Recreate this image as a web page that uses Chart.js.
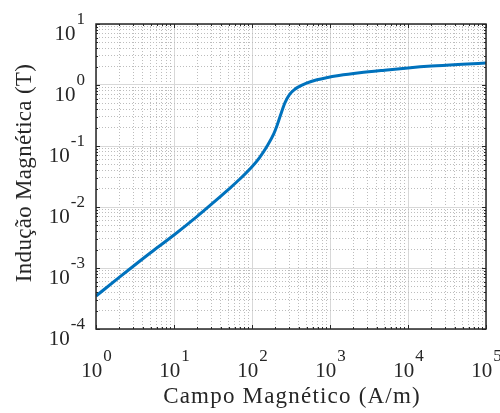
<!DOCTYPE html>
<html>
<head>
<meta charset="utf-8">
<script src="https://cdn.jsdelivr.net/npm/chart.js@4.4.1/dist/chart.umd.min.js"></script>
<style>
    html, body { margin: 0; padding: 0; background: #ffffff; }
    #wrap { width: 500px; height: 413px; }
</style>
</head>
<body>
<div id="wrap"><canvas id="bh" width="500" height="413"></canvas></div>
<script>
// ===== B-H curve (log-log) =====

// Campo magnético H (A/m)
const fieldH = [1, 2, 5, 10, 20, 30, 50, 70, 100, 125, 160, 190, 210, 230, 265, 305,
    350, 390, 500, 680, 900, 1300, 2400, 5000, 10000, 20000, 50000, 100000];
// Indução magnética B (T)
const inductionB = [3.47e-4, 7.08e-4, 1.78e-3, 3.47e-3, 7.08e-3, 0.0110, 0.0195, 0.0288,
    0.0457, 0.0646, 0.105, 0.158, 0.219, 0.309, 0.513, 0.708, 0.841, 0.923, 1.072, 1.216,
    1.318, 1.429, 1.585, 1.750, 1.905, 2.042, 2.188, 2.291];

// decade exponents shown as tick labels
const xDecades = [0, 1, 2, 3, 4, 5];
const yDecades = [-4, -3, -2, -1, 0, 1];

const xTitle = 'Campo Magnético (A/m)';
const yTitle = 'Indução Magnética (T)';

const FONT = '"Liberation Serif", "Times New Roman", serif';
const INK = '#262626';

// 1..9 x 10^n between min and max
function logTicks(minExp, maxExp) {
    const out = [];
    for (let e = minExp; e < maxExp; e++) {
        for (let s = 1; s < 10; s++) out.push({ value: s * Math.pow(10, e) });
    }
    out.push({ value: Math.pow(10, maxExp) });
    return out;
}

function isDecade(v) {
    const l = Math.log10(v);
    return Math.abs(l - Math.round(l)) < 1e-9;
}

const gridColor = ctx => (ctx.tick && isDecade(ctx.tick.value)) ? '#d8d8d8' : '#bdbdbd';
const gridDash = ctx => (ctx.tick && isDecade(ctx.tick.value)) ? [] : [1, 2];

// box, inward ticks and 10^n labels
const matlabAxes = {
    id: 'matlabAxes',
    afterDraw(chart) {
        const { ctx, chartArea: a, scales: { x, y } } = chart;
        ctx.save();

        // tick marks on all four sides
        ctx.strokeStyle = INK;
        ctx.lineWidth = 1;
        ctx.beginPath();
        x.ticks.forEach(t => {
            const px = Math.round(x.getPixelForValue(t.value)) + 0.5;
            const len = isDecade(t.value) ? 4 : 2;
            ctx.moveTo(px, a.bottom); ctx.lineTo(px, a.bottom - len);
            ctx.moveTo(px, a.top); ctx.lineTo(px, a.top + len);
        });
        y.ticks.forEach(t => {
            const py = Math.round(y.getPixelForValue(t.value)) + 0.5;
            const len = isDecade(t.value) ? 4 : 2;
            ctx.moveTo(a.left, py); ctx.lineTo(a.left + len, py);
            ctx.moveTo(a.right, py); ctx.lineTo(a.right - len, py);
        });
        ctx.stroke();

        // box
        ctx.lineWidth = 1.5;
        ctx.strokeRect(a.left, a.top, a.right - a.left, a.bottom - a.top);

        ctx.fillStyle = INK;
        ctx.textBaseline = 'alphabetic';
        const baseFont = '21px ' + FONT;
        const expFont = '17px ' + FONT;

        // x tick labels
        xDecades.forEach(n => {
            const px = x.getPixelForValue(Math.pow(10, n));
            ctx.font = baseFont;
            const wBase = ctx.measureText('10').width;
            ctx.font = expFont;
            const wExp = ctx.measureText(String(n)).width;
            const left = px - (wBase + wExp) / 2;
            ctx.textAlign = 'left';
            ctx.font = baseFont;
            ctx.fillText('10', left, a.bottom + 48);
            ctx.font = expFont;
            ctx.fillText(String(n), left + wBase + 1, a.bottom + 32);
        });

        // y tick labels (right aligned)
        yDecades.forEach(n => {
            const py = y.getPixelForValue(Math.pow(10, n));
            const right = a.left - 11;
            ctx.font = expFont;
            const wExp = ctx.measureText(String(n)).width;
            ctx.textAlign = 'left';
            ctx.fillText(String(n), right - wExp, py);
            ctx.font = baseFont;
            ctx.textAlign = 'right';
            ctx.fillText('10', right - wExp - 1, py + 15.5);
        });

        // axis titles
        ctx.font = '23px ' + FONT;
        ctx.textAlign = 'center';
        ctx.letterSpacing = '1.2px';
        ctx.fillText(xTitle, (a.left + a.right) / 2 + 1, a.bottom + 74);

        ctx.letterSpacing = '0.3px';
        ctx.translate(31, 173);
        ctx.rotate(-Math.PI / 2);
        ctx.fillText(yTitle, 0, 0);

        ctx.restore();
    }
};

const points = fieldH.map((h, i) => ({ x: h, y: inductionB[i] }));

new Chart(document.getElementById('bh').getContext('2d'), {
    type: 'line',
    data: {
        datasets: [{
            data: points,
            borderColor: '#0072bd',
            borderWidth: 3,
            pointRadius: 0,
            fill: false,
            cubicInterpolationMode: 'monotone'
        }]
    },
    options: {
        responsive: false,
        animation: false,
        layout: { padding: { left: 96, right: 14, top: 24, bottom: 84 } },
        plugins: { legend: { display: false }, tooltip: { enabled: false } },
        scales: {
            x: {
                type: 'logarithmic',
                min: 1,
                max: 1e5,
                afterBuildTicks: s => { s.ticks = logTicks(0, 5); },
                ticks: { display: false },
                grid: { color: gridColor, drawTicks: false, lineWidth: 1 },
                border: { display: false, dash: gridDash }
            },
            y: {
                type: 'logarithmic',
                min: 1e-4,
                max: 10,
                afterBuildTicks: s => { s.ticks = logTicks(-4, 1); },
                ticks: { display: false },
                grid: { color: gridColor, drawTicks: false, lineWidth: 1 },
                border: { display: false, dash: gridDash }
            }
        }
    },
    plugins: [matlabAxes]
});
</script>
</body>
</html>
